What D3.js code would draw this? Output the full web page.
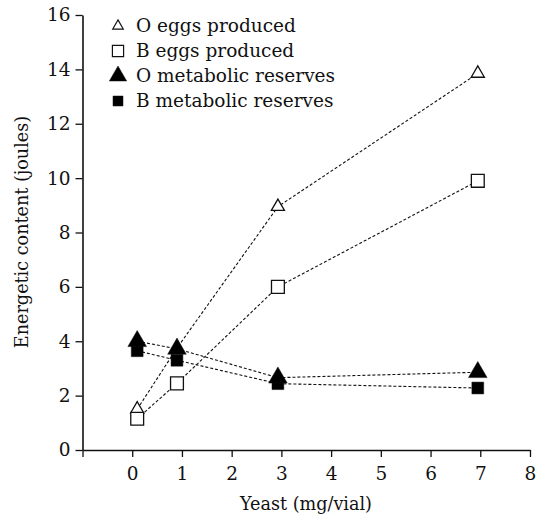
<!DOCTYPE html>
<html>
<head>
<meta charset="utf-8">
<script src="https://cdn.jsdelivr.net/npm/d3@7"></script>
<style>
body { margin: 0; background: #fff; }
</style>
</head>
<body>
<svg id="chart" width="547" height="517"></svg>
<script>
// values
var yeast = [0.1, 0.9, 2.93, 6.95];
var oEggs = [1.5, 3.75, 8.95, 13.85];
var bEggs = [1.15, 2.45, 6.0, 9.9];
var oReserves = [4.0, 3.72, 2.66, 2.86];
var bReserves = [3.65, 3.3, 2.44, 2.28];
var xTicks = [-1, 0, 1, 2, 3, 4, 5, 6, 7, 8];
var yTicks = [0, 2, 4, 6, 8, 10, 12, 14, 16];
var legendLabels = ["O eggs produced", "B eggs produced", "O metabolic reserves", "B metabolic reserves"];

var svg = d3.select("#chart");

var x = d3.scaleLinear().domain([-1, 8]).range([82.5, 530]);
var y = d3.scaleLinear().domain([0, 16]).range([450, 15]);

var fontName = "DejaVu Serif";
var font = 18.5;
var titleFont = 17.6;

// axes
var yAxis = svg.append("g")
	.attr("transform", "translate(" + x(-1) + ",0)")
	.call(d3.axisLeft(y).tickValues(yTicks).tickSize(7).tickSizeOuter(0).tickPadding(5));

var xAxis = svg.append("g")
	.attr("transform", "translate(0," + y(0) + ")")
	.call(d3.axisBottom(x).tickValues(xTicks).tickSize(7).tickSizeOuter(0).tickPadding(10)
		.tickFormat(function(d) { return d < 0 ? "" : d; }));

svg.selectAll(".domain").attr("stroke", "#111").attr("stroke-width", 1.6);
svg.selectAll(".tick line").attr("stroke", "#111").attr("stroke-width", 1.3);
svg.selectAll("g").attr("font-family", fontName).attr("font-size", font);
svg.selectAll(".tick text").attr("fill", "#111");

// axis titles
svg.append("text")
	.attr("x", 306).attr("y", 510)
	.attr("text-anchor", "middle")
	.attr("font-family", fontName)
	.attr("font-size", titleFont)
	.attr("fill", "#111")
	.text("Yeast (mg/vial)");

svg.append("text")
	.attr("transform", "translate(28,232) rotate(-90)")
	.attr("text-anchor", "middle")
	.attr("font-family", fontName)
	.attr("font-size", titleFont)
	.attr("fill", "#111")
	.text("Energetic content (joules)");

// series
var series = [
	{vals: oEggs, shape: d3.symbolTriangle, size: 75, fill: "#fff"},
	{vals: bEggs, shape: d3.symbolSquare, size: 165, fill: "#fff"},
	{vals: bReserves, shape: d3.symbolSquare, size: 140, fill: "#000"},
	{vals: oReserves, shape: d3.symbolTriangle, size: 150, fill: "#000"}
];

var line = d3.line()
	.x(function(d) { return x(d[0]); })
	.y(function(d) { return y(d[1]); });

series.forEach(function(s) {
	s.points = yeast.map(function(v, i) { return [v, s.vals[i]]; });
});

svg.selectAll(".series-line")
	.data(series)
	.enter().append("path")
	.attr("class", "series-line")
	.attr("d", function(s) { return line(s.points); })
	.attr("fill", "none")
	.attr("stroke", "#111")
	.attr("stroke-width", 1.1)
	.attr("stroke-dasharray", "3,2");

series.forEach(function(s) {
	svg.selectAll(null)
		.data(s.points)
		.enter().append("path")
		.attr("transform", function(d) { return "translate(" + x(d[0]) + "," + y(d[1]) + ")"; })
		.attr("d", d3.symbol().type(s.shape).size(s.size))
		.attr("fill", s.fill)
		.attr("stroke", "#111")
		.attr("stroke-width", s.fill == "#fff" ? 1.3 : 0.5);
});

// legend
var legendShapes = [
	{shape: d3.symbolTriangle, size: 48, fill: "#fff"},
	{shape: d3.symbolSquare, size: 125, fill: "#fff"},
	{shape: d3.symbolTriangle, size: 130, fill: "#000"},
	{shape: d3.symbolSquare, size: 100, fill: "#000"}
];

var legend = svg.selectAll(".legend")
	.data(legendLabels)
	.enter().append("g")
	.attr("class", "legend")
	.attr("transform", function(d, i) { return "translate(118," + (26 + i * 25) + ")"; });

legend.append("path")
	.attr("d", function(d, i) { return d3.symbol().type(legendShapes[i].shape).size(legendShapes[i].size)(); })
	.attr("fill", function(d, i) { return legendShapes[i].fill; })
	.attr("stroke", "#111")
	.attr("stroke-width", function(d, i) { return legendShapes[i].fill == "#fff" ? 1.2 : 0.5; });

legend.append("text")
	.attr("x", 18).attr("y", 6)
	.attr("font-family", fontName)
	.attr("font-size", font)
	.attr("fill", "#111")
	.text(function(d) { return d; });
</script>
</body>
</html>
